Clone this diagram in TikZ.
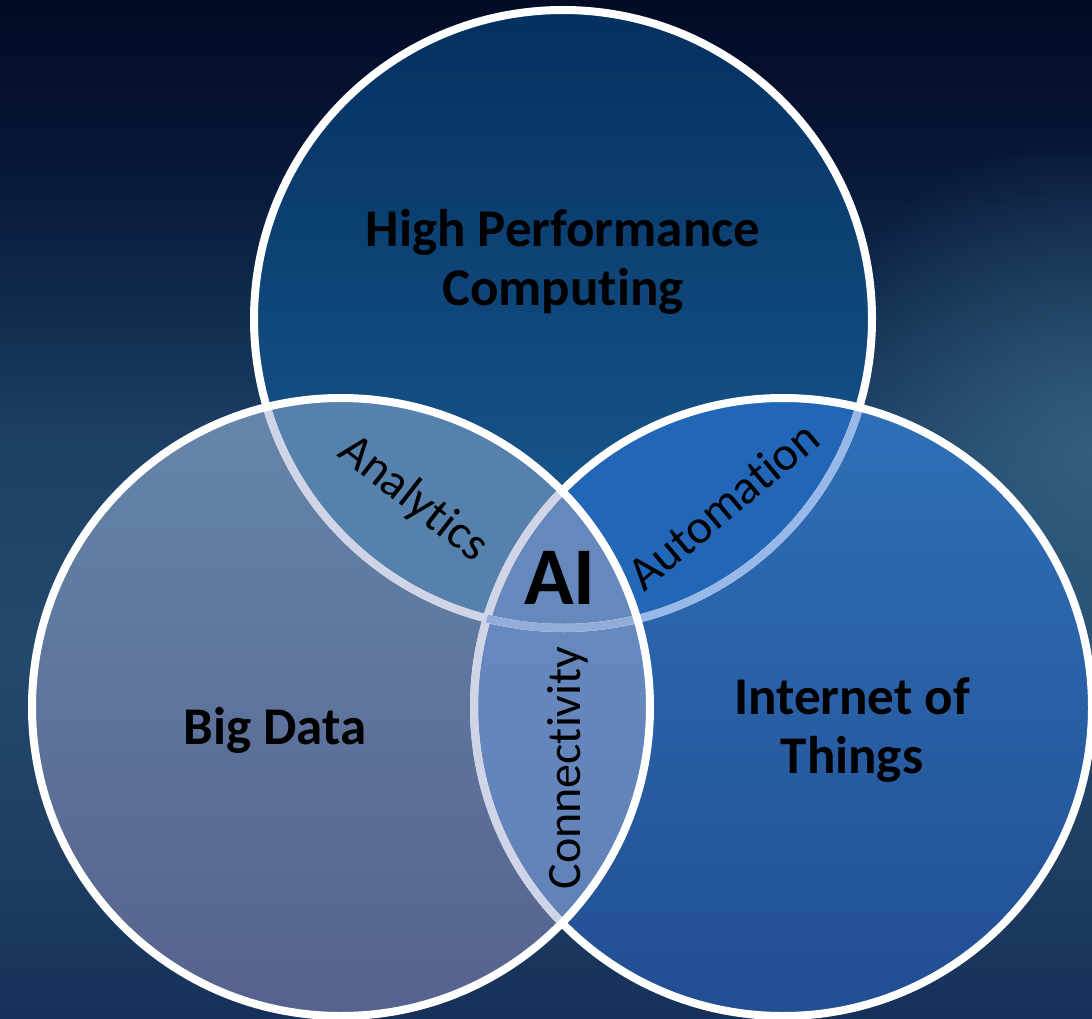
\documentclass[tikz,border=0pt]{standalone}
\usepackage{fontspec}
\setmainfont{Carlito}[Ligatures={NoCommon,NoContextual},RawFeature={-liga;-clig;-calt}]
\usetikzlibrary{fadings}
\definecolor{bg0}{HTML}{030B25}
\definecolor{bg1}{HTML}{071535}
\definecolor{bg2}{HTML}{0F2A4C}
\definecolor{bg3}{HTML}{1D4165}
\definecolor{bg4}{HTML}{23496D}
\definecolor{bg5}{HTML}{1E3F62}
\definecolor{bg6}{HTML}{17305A}
\definecolor{glowc}{HTML}{3A6888}
\definecolor{hpcTop}{HTML}{03305F}
\definecolor{hpcBot}{HTML}{1C5E95}
\definecolor{iotTop}{HTML}{2F70B8}
\definecolor{iotBot}{HTML}{224E92}
\definecolor{bdTop}{HTML}{6586AA}
\definecolor{bdBot}{HTML}{56628D}
\definecolor{anaC}{HTML}{5681AD}
\definecolor{autC}{HTML}{2266B8}
\definecolor{conTop}{HTML}{6A8DC3}
\definecolor{conBot}{HTML}{6080B6}
\definecolor{aiC}{HTML}{6689BD}
\definecolor{lavLine}{HTML}{CFD5E6}
\definecolor{bluLine}{HTML}{98B8E8}
\definecolor{aiLine}{HTML}{93ACDA}
\pgfdeclareverticalshading{bgshade}{100bp}{color(0bp)=(bg6); color(25bp)=(bg6); color(33.3bp)=(bg5); color(43.1bp)=(bg4); color(52.9bp)=(bg3); color(60.3bp)=(bg2); color(67.6bp)=(bg1); color(75bp)=(bg0); color(100bp)=(bg0)}
\tikzfading[name=softglow, inner color=transparent!0, outer color=transparent!100]
\tikzset{
  ring/.style={line width=8pt},
  mainlabel/.style={font=\bfseries\fontsize{53}{59}\selectfont, align=center, text=black, inner sep=0pt},
  arclabel/.style={font=\fontsize{48}{56}\selectfont, text=black, inner sep=0pt},
}
\def\hpcpath{(563,319) circle (309)}
\def\leftpath{(341,707) circle (309)}
\def\rightpath{(783,707) circle (309)}
\begin{document}
\begin{tikzpicture}[x=1pt,y=-1pt]
\useasboundingbox (0,0) rectangle (1092,1019);
% background
\shade[shading=bgshade] (0,0) rectangle (1092,1019);
\fill[glowc, path fading=softglow, fill opacity=0.75] (1092,450) ellipse (300 and 320);
% circle fills
\shade[top color=hpcTop, bottom color=hpcBot] \hpcpath;
\shade[top color=iotTop, bottom color=iotBot] \rightpath;
\shade[top color=bdTop, bottom color=bdBot] \leftpath;
% overlaps
\begin{scope}
  \clip \leftpath;
  \shade[top color=conTop, bottom color=conBot] \rightpath;
\end{scope}
\begin{scope}
  \clip \hpcpath;
  \fill[anaC] \leftpath;
  \fill[autC] \rightpath;
  \clip \leftpath;
  \fill[aiC] \rightpath;
\end{scope}
% borders
\draw[ring, white] \hpcpath;
\begin{scope}
  \clip \rightpath;
  \draw[ring, bluLine] \hpcpath;
\end{scope}
\draw[ring, white] \rightpath;
\begin{scope}
  \clip \leftpath;
  \draw[ring, lavLine] \hpcpath;
  \draw[ring, lavLine] \rightpath;
  \clip \rightpath;
  \draw[ring, aiLine] \hpcpath;
\end{scope}
\draw[ring, white] \leftpath;
% labels
\node[mainlabel] (hpc) at (563,262) {High Performance\\Computing};
\node[mainlabel] (bd) at (275,730) {Big Data};
\node[mainlabel] (iot) at (852,730) {Internet of\\Things};
\node[font=\bfseries\fontsize{82}{90}\selectfont, text=black, inner sep=0pt] (ai) at (560,578) {AI};
\node[arclabel, rotate=-38] (ana) at (413,499) {Analytics};
\node[arclabel, rotate=40] (aut) at (723,505) {Automation};
\node[arclabel, rotate=90] (con) at (568,768) {Connectivity};
\end{tikzpicture}
\end{document}
